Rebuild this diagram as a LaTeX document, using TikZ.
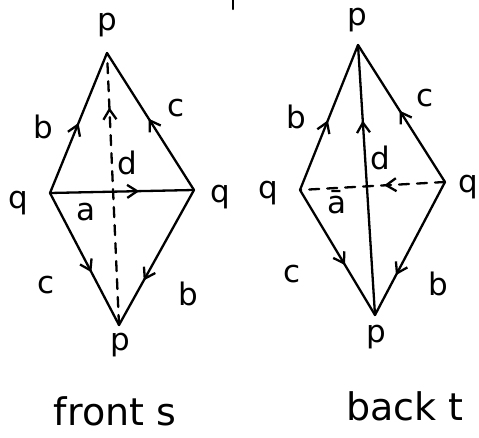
\documentclass[tikz,border=0pt]{standalone}
\usepackage{fontspec}
\setmainfont{DejaVu Sans}
\usetikzlibrary{arrows.meta,decorations.markings}
\tikzset{
  edge/.style={line width=2.3pt, line cap=round, line join=round},
  midarrow/.style={postaction={decorate}, decoration={markings,
     mark=at position #1 with {\arrow{Straight Barb[length=10pt,width=13pt,line width=2.3pt]}}}},
  lbl/.style={font=\fontsize{31}{34}\selectfont, inner sep=0pt},
  captext/.style={font=\fontsize{38}{42}\selectfont, inner sep=0pt},
  dsh/.style={dash pattern=on 10pt off 8pt}
}
\begin{document}
\begin{tikzpicture}[x=1pt,y=-1pt]
\useasboundingbox (0,0) rectangle (479,438);
% ---------- front ----------
\coordinate (P1) at (107,53);
\coordinate (B1) at (119,325);
\coordinate (L1) at (50,193);
\coordinate (R1) at (194,190);
\draw[edge, midarrow=0.5] (L1) -- (P1);
\draw[edge, midarrow=0.52] (R1) -- (P1);
\draw[edge, midarrow=0.62] (L1) -- (R1);
\draw[edge, midarrow=0.6] (L1) -- (B1);
\draw[edge, midarrow=0.67] (R1) -- (B1);
\draw[edge, dsh, midarrow=0.8] (B1) -- (P1);
\node[lbl] (p1t) at (107,25) {p};
\node[lbl] (p1b) at (120,345) {p};
\node[lbl] (q1l) at (18,203) {q};
\node[lbl] (q1r) at (220,197) {q};
\node[lbl] (b1u) at (43,127) {b};
\node[lbl] (c1u) at (176,108) {c};
\node[lbl] (d1) at (127,163) {d};
\node[lbl] (a1) at (86,212) {a};
\node[lbl] (c1d) at (46,285) {c};
\node[lbl] (b1d) at (188,294) {b};
% ---------- back ----------
\coordinate (P2) at (358,45);
\coordinate (B2) at (375,315);
\coordinate (L2) at (300,190);
\coordinate (R2) at (445,182);
\draw[edge, midarrow=0.48] (L2) -- (P2);
\draw[edge, midarrow=0.52] (R2) -- (P2);
\draw[edge, midarrow=0.72] (B2) -- (P2);
\draw[edge, dsh, midarrow=0.42] (R2) -- (L2);
\draw[edge, midarrow=0.6] (L2) -- (B2);
\draw[edge, midarrow=0.7] (R2) -- (B2);
\node[lbl] (p2t) at (357,20) {p};
\node[lbl] (p2b) at (376,337) {p};
\node[lbl] (q2l) at (268,193) {q};
\node[lbl] (q2r) at (468,187) {q};
\node[lbl] (b2u) at (296,117) {b};
\node[lbl] (c2u) at (425,98) {c};
\node[lbl] (d2) at (380,158) {d};
\node[lbl] (a2) at (337,202) {ā};
\node[lbl] (c2d) at (292,274) {c};
\node[lbl] (b2d) at (438,284) {b};
% ---------- captions ----------
\node[captext] (front) at (115,411) {front s};
\node[captext] (back) at (405,406) {back t};
% stray stroke at top
\draw[edge] (233,0) -- (233,9);
\end{tikzpicture}
\end{document}
